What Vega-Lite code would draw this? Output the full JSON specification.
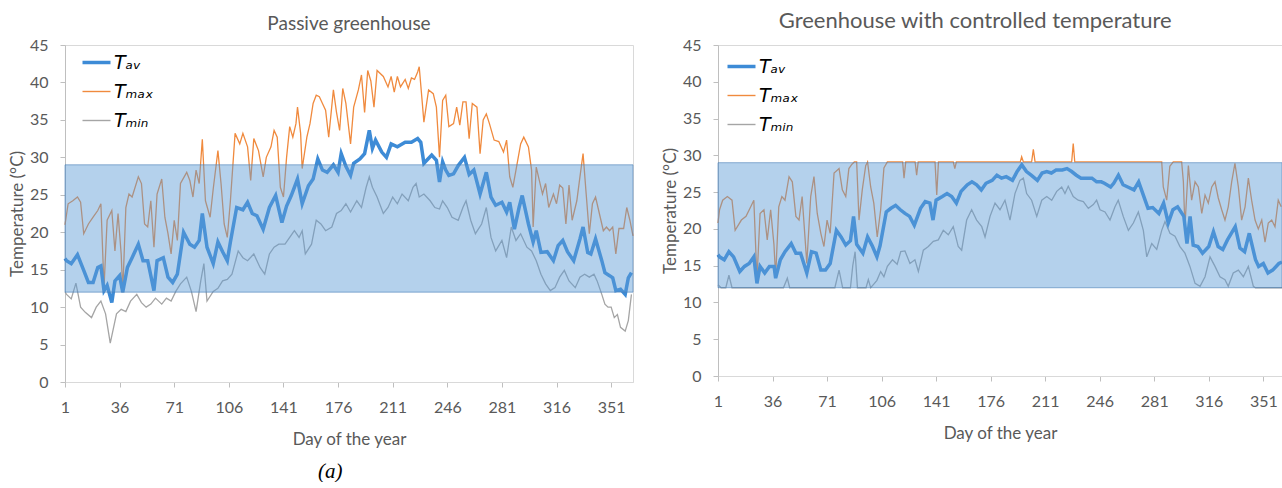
{
"$schema":"https://vega.github.io/schema/vega-lite/v6.json",
"background":"white",
"padding":{"left":7,"top":9,"right":0,"bottom":0},
"config":{
 "font":"Lato",
 "view":{"stroke":"#d9d9d9","strokeWidth":1},
 "axis":{"labelColor":"#595959","titleColor":"#595959","labelFontSize":16,"titleFontSize":17,"titleFontWeight":"normal","domainColor":"#bfbfbf","tickColor":"#bfbfbf","grid":false,"labelFont":"Lato","titleFont":"Lato","labelOverlap":false,"labelBound":false},
 "title":{"fontSize":19,"fontWeight":"normal","color":"#595959","font":"Lato"},
 "legend":{"title":null,"symbolType":"stroke","symbolSize":784,"labelFont":"DejaVu Sans","labelFontStyle":"italic","labelFontSize":19,"labelColor":"#000000","labelOffset":8,"rowPadding":9,"padding":0,"symbolOpacity":1}
},
"datasets":{
 "band":[{"lo":12,"hi":29}],
 "Lav":[{"d":1,"t":16.5},{"d":2,"t":16.2},{"d":5,"t":15.8},{"d":9,"t":17.0},{"d":13,"t":14.9},{"d":16,"t":13.3},{"d":19,"t":13.3},{"d":22,"t":15.3},{"d":24,"t":15.5},{"d":26,"t":12.2},{"d":28,"t":12.9},{"d":31,"t":10.6},{"d":33,"t":13.5},{"d":36,"t":14.2},{"d":38,"t":12.0},{"d":41,"t":15.3},{"d":44,"t":16.6},{"d":48,"t":18.4},{"d":51,"t":16.2},{"d":54,"t":16.2},{"d":58,"t":12.2},{"d":60,"t":16.2},{"d":64,"t":16.6},{"d":67,"t":14.0},{"d":70,"t":13.3},{"d":73,"t":14.4},{"d":77,"t":20.0},{"d":81,"t":18.4},{"d":84,"t":18.0},{"d":87,"t":18.9},{"d":89,"t":22.5},{"d":92,"t":18.0},{"d":96,"t":15.8},{"d":99,"t":18.7},{"d":102,"t":17.4},{"d":105,"t":16.2},{"d":107,"t":18.7},{"d":111,"t":23.3},{"d":115,"t":23.0},{"d":118,"t":24.0},{"d":121,"t":22.5},{"d":124,"t":22.2},{"d":128,"t":20.4},{"d":132,"t":23.3},{"d":136,"t":24.9},{"d":140,"t":21.3},{"d":143,"t":23.5},{"d":146,"t":24.9},{"d":150,"t":27.1},{"d":153,"t":23.8},{"d":157,"t":26.2},{"d":160,"t":27.1},{"d":163,"t":29.8},{"d":166,"t":28.3},{"d":169,"t":28.0},{"d":173,"t":29.0},{"d":176,"t":28.0},{"d":178,"t":30.5},{"d":181,"t":28.8},{"d":184,"t":27.6},{"d":186,"t":29.2},{"d":190,"t":29.8},{"d":193,"t":30.5},{"d":196,"t":33.6},{"d":198,"t":31.2},{"d":200,"t":32.3},{"d":204,"t":30.7},{"d":207,"t":30.0},{"d":210,"t":31.8},{"d":214,"t":31.4},{"d":219,"t":32.0},{"d":223,"t":32.0},{"d":227,"t":32.5},{"d":229,"t":32.0},{"d":231,"t":29.2},{"d":236,"t":30.3},{"d":239,"t":29.6},{"d":241,"t":26.7},{"d":243,"t":29.4},{"d":245,"t":28.3},{"d":247,"t":27.6},{"d":250,"t":27.8},{"d":253,"t":28.9},{"d":257,"t":30.0},{"d":260,"t":27.7},{"d":263,"t":28.3},{"d":267,"t":25.1},{"d":271,"t":28.0},{"d":274,"t":24.7},{"d":277,"t":23.6},{"d":281,"t":24.0},{"d":284,"t":22.7},{"d":286,"t":24.0},{"d":289,"t":20.4},{"d":292,"t":23.3},{"d":294,"t":24.9},{"d":298,"t":21.1},{"d":301,"t":18.7},{"d":303,"t":20.2},{"d":306,"t":17.3},{"d":310,"t":17.4},{"d":314,"t":16.2},{"d":317,"t":18.2},{"d":320,"t":18.9},{"d":323,"t":17.4},{"d":327,"t":16.2},{"d":331,"t":19.1},{"d":333,"t":20.7},{"d":336,"t":17.3},{"d":338,"t":17.1},{"d":341,"t":19.1},{"d":345,"t":16.2},{"d":347,"t":14.6},{"d":350,"t":14.2},{"d":352,"t":13.9},{"d":354,"t":12.2},{"d":357,"t":12.4},{"d":360,"t":11.7},{"d":362,"t":13.9},{"d":364,"t":14.6}],
 "Lmax":[{"d":1,"t":21.0},{"d":3,"t":23.8},{"d":6,"t":24.2},{"d":9,"t":24.7},{"d":11,"t":24.0},{"d":13,"t":19.8},{"d":16,"t":21.1},{"d":19,"t":22.0},{"d":22,"t":22.9},{"d":24,"t":23.8},{"d":26,"t":12.6},{"d":28,"t":21.6},{"d":31,"t":22.9},{"d":33,"t":17.5},{"d":35,"t":22.5},{"d":37,"t":17.1},{"d":38,"t":12.0},{"d":40,"t":23.3},{"d":42,"t":25.1},{"d":44,"t":24.7},{"d":48,"t":27.4},{"d":50,"t":26.5},{"d":52,"t":21.1},{"d":54,"t":20.7},{"d":56,"t":24.2},{"d":58,"t":18.0},{"d":60,"t":25.1},{"d":63,"t":27.1},{"d":65,"t":22.0},{"d":67,"t":19.8},{"d":69,"t":17.1},{"d":71,"t":21.6},{"d":73,"t":18.9},{"d":75,"t":26.5},{"d":79,"t":28.0},{"d":81,"t":26.9},{"d":83,"t":24.7},{"d":85,"t":28.3},{"d":87,"t":26.5},{"d":89,"t":32.4},{"d":91,"t":24.2},{"d":94,"t":22.0},{"d":96,"t":25.8},{"d":99,"t":30.9},{"d":101,"t":26.5},{"d":103,"t":21.1},{"d":105,"t":19.3},{"d":107,"t":24.2},{"d":110,"t":33.2},{"d":113,"t":31.8},{"d":115,"t":33.2},{"d":118,"t":31.4},{"d":120,"t":26.9},{"d":122,"t":32.5},{"d":125,"t":30.9},{"d":128,"t":27.4},{"d":130,"t":30.0},{"d":133,"t":31.4},{"d":135,"t":33.6},{"d":137,"t":32.7},{"d":139,"t":26.0},{"d":141,"t":24.7},{"d":143,"t":30.0},{"d":145,"t":34.1},{"d":147,"t":32.7},{"d":149,"t":34.5},{"d":150,"t":36.7},{"d":152,"t":33.2},{"d":153,"t":28.5},{"d":156,"t":32.7},{"d":158,"t":34.5},{"d":160,"t":37.2},{"d":162,"t":38.3},{"d":164,"t":38.1},{"d":166,"t":37.2},{"d":168,"t":36.3},{"d":170,"t":32.7},{"d":173,"t":39.0},{"d":175,"t":36.0},{"d":177,"t":33.6},{"d":179,"t":39.2},{"d":181,"t":37.2},{"d":184,"t":31.8},{"d":186,"t":36.7},{"d":189,"t":39.0},{"d":191,"t":41.0},{"d":193,"t":36.0},{"d":195,"t":41.6},{"d":197,"t":40.2},{"d":199,"t":36.7},{"d":201,"t":41.6},{"d":205,"t":40.8},{"d":208,"t":39.4},{"d":210,"t":40.8},{"d":212,"t":38.7},{"d":214,"t":40.8},{"d":216,"t":39.4},{"d":219,"t":40.4},{"d":221,"t":39.2},{"d":223,"t":40.6},{"d":225,"t":40.4},{"d":227,"t":41.4},{"d":228,"t":42.1},{"d":230,"t":37.2},{"d":231,"t":34.7},{"d":234,"t":39.0},{"d":237,"t":38.5},{"d":239,"t":36.7},{"d":241,"t":30.0},{"d":243,"t":37.6},{"d":245,"t":38.3},{"d":247,"t":34.1},{"d":250,"t":34.5},{"d":252,"t":36.7},{"d":254,"t":34.3},{"d":256,"t":37.4},{"d":258,"t":37.4},{"d":260,"t":32.5},{"d":262,"t":37.2},{"d":265,"t":36.7},{"d":267,"t":30.5},{"d":269,"t":35.0},{"d":271,"t":35.8},{"d":273,"t":34.5},{"d":276,"t":32.3},{"d":279,"t":32.1},{"d":282,"t":30.7},{"d":284,"t":32.3},{"d":286,"t":27.4},{"d":288,"t":26.0},{"d":290,"t":28.3},{"d":293,"t":31.8},{"d":295,"t":32.7},{"d":298,"t":31.4},{"d":300,"t":28.3},{"d":301,"t":20.7},{"d":303,"t":28.7},{"d":305,"t":26.9},{"d":307,"t":25.1},{"d":309,"t":26.5},{"d":311,"t":23.3},{"d":314,"t":25.1},{"d":316,"t":23.8},{"d":318,"t":26.3},{"d":320,"t":25.9},{"d":322,"t":21.1},{"d":324,"t":26.3},{"d":326,"t":21.6},{"d":329,"t":24.2},{"d":331,"t":27.4},{"d":333,"t":30.5},{"d":335,"t":25.1},{"d":337,"t":19.8},{"d":339,"t":23.8},{"d":341,"t":24.7},{"d":344,"t":22.0},{"d":346,"t":20.2},{"d":348,"t":20.7},{"d":350,"t":20.2},{"d":352,"t":20.7},{"d":354,"t":17.1},{"d":356,"t":20.5},{"d":359,"t":20.5},{"d":361,"t":23.3},{"d":363,"t":21.6},{"d":365,"t":19.5}],
 "Lmin":[{"d":1,"t":12.0},{"d":2,"t":11.7},{"d":5,"t":11.1},{"d":8,"t":13.2},{"d":11,"t":10.0},{"d":14,"t":9.3},{"d":18,"t":8.6},{"d":21,"t":10.0},{"d":24,"t":10.8},{"d":27,"t":9.1},{"d":30,"t":5.2},{"d":34,"t":9.1},{"d":37,"t":9.7},{"d":40,"t":9.4},{"d":43,"t":10.8},{"d":47,"t":11.7},{"d":50,"t":10.6},{"d":53,"t":10.0},{"d":56,"t":10.4},{"d":59,"t":11.2},{"d":63,"t":10.4},{"d":66,"t":11.2},{"d":69,"t":10.8},{"d":72,"t":12.1},{"d":75,"t":13.1},{"d":79,"t":14.0},{"d":82,"t":12.1},{"d":85,"t":9.4},{"d":88,"t":13.5},{"d":90,"t":15.8},{"d":92,"t":10.8},{"d":96,"t":12.1},{"d":99,"t":12.5},{"d":102,"t":13.5},{"d":105,"t":13.7},{"d":108,"t":14.4},{"d":112,"t":17.5},{"d":115,"t":16.6},{"d":118,"t":16.2},{"d":122,"t":17.1},{"d":126,"t":15.3},{"d":129,"t":14.4},{"d":132,"t":17.1},{"d":135,"t":18.0},{"d":138,"t":18.4},{"d":142,"t":18.4},{"d":145,"t":19.3},{"d":148,"t":20.2},{"d":151,"t":19.3},{"d":153,"t":20.2},{"d":155,"t":17.1},{"d":159,"t":18.4},{"d":162,"t":21.6},{"d":165,"t":21.1},{"d":168,"t":20.2},{"d":172,"t":20.7},{"d":175,"t":22.5},{"d":178,"t":22.9},{"d":181,"t":23.8},{"d":184,"t":22.7},{"d":188,"t":24.2},{"d":191,"t":23.3},{"d":194,"t":26.0},{"d":196,"t":27.4},{"d":198,"t":26.0},{"d":201,"t":24.7},{"d":205,"t":22.5},{"d":208,"t":23.3},{"d":211,"t":24.7},{"d":214,"t":23.8},{"d":217,"t":25.1},{"d":221,"t":24.2},{"d":224,"t":26.0},{"d":226,"t":26.5},{"d":228,"t":24.7},{"d":231,"t":25.1},{"d":235,"t":24.2},{"d":238,"t":23.3},{"d":241,"t":23.1},{"d":243,"t":24.2},{"d":246,"t":23.3},{"d":249,"t":22.0},{"d":253,"t":21.6},{"d":256,"t":23.3},{"d":258,"t":24.2},{"d":261,"t":21.6},{"d":264,"t":19.8},{"d":268,"t":21.1},{"d":271,"t":23.3},{"d":274,"t":19.3},{"d":277,"t":17.5},{"d":281,"t":18.9},{"d":284,"t":16.6},{"d":287,"t":20.7},{"d":290,"t":18.9},{"d":293,"t":19.8},{"d":297,"t":18.0},{"d":300,"t":17.5},{"d":303,"t":16.2},{"d":306,"t":14.4},{"d":309,"t":13.1},{"d":312,"t":12.2},{"d":315,"t":12.6},{"d":318,"t":14.0},{"d":321,"t":14.9},{"d":324,"t":13.5},{"d":328,"t":12.6},{"d":331,"t":14.0},{"d":334,"t":14.4},{"d":337,"t":14.0},{"d":340,"t":14.4},{"d":342,"t":13.5},{"d":345,"t":11.7},{"d":347,"t":10.4},{"d":349,"t":10.0},{"d":351,"t":10.0},{"d":353,"t":8.6},{"d":355,"t":9.0},{"d":357,"t":7.3},{"d":360,"t":6.8},{"d":362,"t":8.2},{"d":364,"t":11.7}],
 "Rav":[{"d":1,"t":16.5},{"d":2,"t":16.2},{"d":5,"t":15.8},{"d":8,"t":16.9},{"d":11,"t":16.2},{"d":15,"t":14.2},{"d":18,"t":14.9},{"d":21,"t":15.3},{"d":24,"t":16.2},{"d":26,"t":12.6},{"d":28,"t":14.9},{"d":31,"t":14.0},{"d":34,"t":14.9},{"d":37,"t":14.9},{"d":38,"t":13.3},{"d":41,"t":15.8},{"d":44,"t":16.9},{"d":48,"t":18.0},{"d":51,"t":16.7},{"d":54,"t":16.7},{"d":58,"t":14.0},{"d":61,"t":16.9},{"d":64,"t":16.7},{"d":67,"t":14.4},{"d":70,"t":14.4},{"d":73,"t":15.3},{"d":77,"t":19.8},{"d":80,"t":18.9},{"d":83,"t":17.8},{"d":86,"t":18.4},{"d":88,"t":21.7},{"d":90,"t":17.9},{"d":94,"t":16.7},{"d":97,"t":18.9},{"d":100,"t":17.7},{"d":103,"t":16.2},{"d":105,"t":17.7},{"d":109,"t":22.3},{"d":112,"t":22.8},{"d":115,"t":23.2},{"d":118,"t":22.6},{"d":121,"t":22.1},{"d":124,"t":21.7},{"d":127,"t":20.5},{"d":131,"t":22.8},{"d":134,"t":23.7},{"d":137,"t":23.5},{"d":139,"t":21.2},{"d":141,"t":23.9},{"d":145,"t":24.4},{"d":148,"t":24.8},{"d":151,"t":24.4},{"d":154,"t":23.5},{"d":157,"t":25.1},{"d":161,"t":26.0},{"d":164,"t":26.4},{"d":167,"t":26.0},{"d":170,"t":25.3},{"d":173,"t":26.2},{"d":177,"t":26.6},{"d":180,"t":27.3},{"d":183,"t":26.9},{"d":186,"t":27.1},{"d":190,"t":26.6},{"d":193,"t":27.8},{"d":196,"t":28.7},{"d":199,"t":27.8},{"d":202,"t":27.3},{"d":206,"t":26.6},{"d":209,"t":27.6},{"d":212,"t":27.8},{"d":215,"t":27.6},{"d":218,"t":28.0},{"d":222,"t":28.0},{"d":225,"t":28.2},{"d":228,"t":27.8},{"d":231,"t":27.3},{"d":234,"t":26.9},{"d":238,"t":26.9},{"d":241,"t":26.9},{"d":244,"t":26.4},{"d":247,"t":26.4},{"d":249,"t":26.2},{"d":253,"t":25.7},{"d":255,"t":26.2},{"d":258,"t":27.3},{"d":261,"t":26.0},{"d":264,"t":25.7},{"d":268,"t":25.3},{"d":271,"t":26.4},{"d":274,"t":24.6},{"d":277,"t":22.8},{"d":280,"t":22.9},{"d":284,"t":22.1},{"d":287,"t":23.5},{"d":290,"t":20.8},{"d":293,"t":22.6},{"d":296,"t":23.0},{"d":300,"t":21.7},{"d":302,"t":18.0},{"d":304,"t":21.7},{"d":306,"t":17.8},{"d":309,"t":17.6},{"d":312,"t":16.7},{"d":316,"t":17.6},{"d":319,"t":19.6},{"d":322,"t":17.6},{"d":325,"t":17.2},{"d":328,"t":18.5},{"d":333,"t":20.3},{"d":336,"t":17.4},{"d":339,"t":16.9},{"d":342,"t":19.4},{"d":346,"t":15.8},{"d":348,"t":14.9},{"d":351,"t":15.3},{"d":354,"t":14.0},{"d":357,"t":14.4},{"d":361,"t":15.3},{"d":363,"t":15.5}],
 "Rmax":[{"d":1,"t":20.8},{"d":2,"t":22.6},{"d":4,"t":23.9},{"d":7,"t":24.4},{"d":10,"t":23.9},{"d":12,"t":19.8},{"d":16,"t":21.2},{"d":19,"t":21.7},{"d":22,"t":23.0},{"d":24,"t":23.9},{"d":26,"t":13.1},{"d":28,"t":22.1},{"d":30.5,"t":22.6},{"d":32.6,"t":18.5},{"d":34.8,"t":22.6},{"d":36.9,"t":17.9},{"d":38,"t":13.5},{"d":40,"t":23.0},{"d":42,"t":24.4},{"d":44,"t":23.9},{"d":46.6,"t":27.1},{"d":48.7,"t":26.4},{"d":51,"t":21.7},{"d":53,"t":21.2},{"d":55,"t":24.4},{"d":58,"t":15.3},{"d":60.5,"t":24.4},{"d":62.6,"t":27.1},{"d":64.7,"t":22.1},{"d":67,"t":19.4},{"d":69,"t":17.6},{"d":71,"t":21.2},{"d":73,"t":19.4},{"d":75.5,"t":27.6},{"d":78.7,"t":28.2},{"d":80.8,"t":25.3},{"d":83,"t":24.4},{"d":85,"t":28.2},{"d":87,"t":28.8},{"d":88.5,"t":29.1},{"d":90,"t":29.1},{"d":91.5,"t":21.2},{"d":93.6,"t":25.3},{"d":95.8,"t":28.6},{"d":97,"t":29.1},{"d":99,"t":25.7},{"d":101,"t":23.5},{"d":103.2,"t":18.9},{"d":105.4,"t":22.6},{"d":107.5,"t":28.3},{"d":109.7,"t":29.1},{"d":119.5,"t":29.1},{"d":120.4,"t":26.9},{"d":121.5,"t":29.1},{"d":127.5,"t":29.1},{"d":128.5,"t":27.3},{"d":129.5,"t":29.1},{"d":140.3,"t":29.1},{"d":141.4,"t":24.6},{"d":142.5,"t":29.1},{"d":152,"t":29.1},{"d":153,"t":28.2},{"d":154,"t":29.1},{"d":195,"t":29.1},{"d":195.9,"t":29.8},{"d":197,"t":29.1},{"d":202.3,"t":29.1},{"d":203.4,"t":30.8},{"d":204.5,"t":29.1},{"d":228,"t":29.1},{"d":229,"t":31.6},{"d":230,"t":29.1},{"d":285.8,"t":29.1},{"d":286.8,"t":25.7},{"d":289,"t":23.9},{"d":291,"t":28.5},{"d":293.2,"t":29.1},{"d":298.6,"t":29.1},{"d":299.7,"t":26.4},{"d":300.7,"t":20.3},{"d":302.9,"t":28.6},{"d":305,"t":23.9},{"d":307.2,"t":26.4},{"d":309.3,"t":25.7},{"d":311.5,"t":22.1},{"d":313.6,"t":24.6},{"d":315.7,"t":23.5},{"d":317.9,"t":25.7},{"d":320,"t":26.4},{"d":322.1,"t":24.2},{"d":324.3,"t":22.6},{"d":326.4,"t":21.2},{"d":328.5,"t":23.0},{"d":330.7,"t":26.4},{"d":332.8,"t":28.9},{"d":335,"t":25.7},{"d":337.1,"t":21.2},{"d":339.3,"t":23.0},{"d":341.4,"t":26.9},{"d":343.5,"t":23.9},{"d":345.7,"t":21.2},{"d":347.8,"t":20.0},{"d":350,"t":21.2},{"d":352.1,"t":18.2},{"d":354.2,"t":20.8},{"d":356.4,"t":21.2},{"d":358.5,"t":20.3},{"d":360.6,"t":23.9},{"d":362.5,"t":23.0}],
 "Rmin":[{"d":1,"t":12.4},{"d":3,"t":12.0},{"d":6,"t":12.0},{"d":8,"t":13.7},{"d":10,"t":12.0},{"d":43,"t":12.0},{"d":45.5,"t":13.3},{"d":47,"t":12.0},{"d":76,"t":12.0},{"d":78.7,"t":14.4},{"d":81,"t":12.0},{"d":86,"t":12.0},{"d":87.5,"t":15.0},{"d":89,"t":16.9},{"d":90.5,"t":12.0},{"d":96,"t":12.0},{"d":97.5,"t":13.1},{"d":99,"t":12.0},{"d":101,"t":12.5},{"d":103,"t":13.0},{"d":105.4,"t":14.2},{"d":107.5,"t":13.5},{"d":109.7,"t":14.9},{"d":113,"t":15.8},{"d":116,"t":15.2},{"d":118.3,"t":16.9},{"d":121,"t":17.0},{"d":124.2,"t":15.3},{"d":127.4,"t":15.8},{"d":129.6,"t":14.2},{"d":132.8,"t":17.1},{"d":136,"t":17.6},{"d":139.2,"t":18.3},{"d":142.4,"t":18.5},{"d":145.6,"t":19.8},{"d":148.8,"t":19.2},{"d":152,"t":20.3},{"d":155.2,"t":17.6},{"d":157.4,"t":17.1},{"d":160.6,"t":21.2},{"d":163.8,"t":22.6},{"d":167,"t":21.2},{"d":170.3,"t":20.3},{"d":172.4,"t":18.9},{"d":175.6,"t":21.7},{"d":178.8,"t":23.5},{"d":182,"t":22.6},{"d":185.2,"t":23.9},{"d":188.4,"t":21.2},{"d":191.6,"t":24.8},{"d":194.8,"t":26.6},{"d":197,"t":26.9},{"d":199.1,"t":24.8},{"d":202.3,"t":23.9},{"d":205.6,"t":21.7},{"d":208.8,"t":23.9},{"d":212,"t":24.4},{"d":215.2,"t":23.9},{"d":218.4,"t":25.1},{"d":221.6,"t":25.7},{"d":223.7,"t":24.8},{"d":225.8,"t":25.8},{"d":229,"t":24.4},{"d":232.2,"t":23.9},{"d":235.5,"t":23.7},{"d":238.7,"t":22.8},{"d":241.9,"t":23.3},{"d":244,"t":23.9},{"d":246.2,"t":22.6},{"d":249.4,"t":22.3},{"d":252.6,"t":21.2},{"d":255.8,"t":23.0},{"d":257.9,"t":23.9},{"d":261.1,"t":21.7},{"d":264.4,"t":19.8},{"d":267.6,"t":20.8},{"d":270.8,"t":22.3},{"d":274,"t":19.8},{"d":276.2,"t":16.2},{"d":279.4,"t":18.0},{"d":282.6,"t":17.2},{"d":285.8,"t":19.8},{"d":287.9,"t":21.0},{"d":291.1,"t":19.4},{"d":294.3,"t":19.0},{"d":297.5,"t":17.6},{"d":300.7,"t":16.7},{"d":303.9,"t":14.9},{"d":307.2,"t":12.6},{"d":310.4,"t":12.2},{"d":313.6,"t":13.5},{"d":316.8,"t":16.2},{"d":320,"t":14.9},{"d":323.2,"t":13.5},{"d":326.4,"t":13.1},{"d":328.5,"t":12.2},{"d":331.7,"t":14.0},{"d":335,"t":14.4},{"d":338.2,"t":13.5},{"d":341.4,"t":14.9},{"d":344.6,"t":12.2},{"d":346,"t":12.0},{"d":363,"t":12.0}]
},
"spacing":21,
"resolve":{"scale":{"color":"independent"},"legend":{"color":"independent"}},
"title":{"text":"(a)","orient":"bottom","anchor":"start","dx":310,"offset":13,"font":"Liberation Serif","fontStyle":"italic","fontSize":21,"color":"#000000","fontWeight":"normal"},
"hconcat":[
 {
  "width":568,"height":337,
  "title":{"text":"Passive greenhouse","frame":"group","offset":3,"fontSize":19},
  "layer":[
   {"data":{"name":"Lmin"},"mark":{"type":"line","strokeWidth":1.3},
    "encoding":{
     "x":{"field":"d","type":"quantitative","scale":{"domain":[1,365],"nice":false,"zero":false},"title":"Day of the year",
      "axis":{"values":[1,36,71,106,141,176,211,246,281,316,351],"format":"d","labelOverlap":false,"labelFlush":false,"tickSize":5,"labelPadding":12,"domainColor":"#d9d9d9","titlePadding":16}},
     "y":{"field":"t","type":"quantitative","scale":{"domain":[0,45],"nice":false},"title":"Temperature (°C)",
      "axis":{"tickCount":10,"labelOverlap":false,"tickSize":5,"labelPadding":12,"titlePadding":3}},
     "color":{"datum":"Tmin","scale":{"domain":["Tav","Tmax","Tmin"],"range":["#3d8bd6","#f08a3e","#a5a5a5"]},
      "legend":{"orient":"none","legendX":22,"legendY":8,"labelExpr":"datum.label === 'Tav' ? 'Tₐᵥ' : datum.label === 'Tmax' ? 'Tₘₐₓ' : 'Tₘᵢₙ'","encode":{"symbols":{"update":{"strokeWidth":{"signal":"datum.value === 'Tav' ? 3.5 : 1.4"}}}}}}
    }},
   {"data":{"name":"Lmax"},"mark":{"type":"line","strokeWidth":1.3},
    "encoding":{"x":{"field":"d","type":"quantitative"},"y":{"field":"t","type":"quantitative"},"color":{"datum":"Tmax"}}},
   {"data":{"name":"Lav"},"mark":{"type":"line","strokeWidth":3.5},
    "encoding":{"x":{"field":"d","type":"quantitative"},"y":{"field":"t","type":"quantitative"},"color":{"datum":"Tav"}}},
   {"data":{"name":"band"},"mark":{"type":"rect","fill":"#5b9bd5","fillOpacity":0.46,"stroke":"#4a7fb8","strokeWidth":1,"strokeOpacity":0.6},
    "encoding":{"y":{"field":"lo","type":"quantitative"},"y2":{"field":"hi"}}}
  ]
 },
 {
  "width":564,"height":331,
  "title":{"text":"Greenhouse with controlled temperature","frame":"bounds","offset":4,"fontSize":22},
  "layer":[
   {"data":{"name":"Rmin"},"mark":{"type":"line","strokeWidth":1.3},
    "encoding":{
     "x":{"field":"d","type":"quantitative","scale":{"domain":[1,363],"nice":false,"zero":false},"title":"Day of the year",
      "axis":{"values":[1,36,71,106,141,176,211,246,281,316,351],"format":"d","labelOverlap":false,"labelFlush":false,"tickSize":5,"labelPadding":12,"domainColor":"#d9d9d9","titlePadding":16}},
     "y":{"field":"t","type":"quantitative","scale":{"domain":[0,45],"nice":false},"title":"Temperature (°C)",
      "axis":{"tickCount":10,"labelOverlap":false,"tickSize":5,"labelPadding":12,"titlePadding":3}},
     "color":{"datum":"Tmin","scale":{"domain":["Tav","Tmax","Tmin"],"range":["#3d8bd6","#f08a3e","#a5a5a5"]},
      "legend":{"orient":"none","legendX":14,"legendY":12,"labelExpr":"datum.label === 'Tav' ? 'Tₐᵥ' : datum.label === 'Tmax' ? 'Tₘₐₓ' : 'Tₘᵢₙ'","encode":{"symbols":{"update":{"strokeWidth":{"signal":"datum.value === 'Tav' ? 3.5 : 1.4"}}}}}}
    }},
   {"data":{"name":"Rmax"},"mark":{"type":"line","strokeWidth":1.3},
    "encoding":{"x":{"field":"d","type":"quantitative"},"y":{"field":"t","type":"quantitative"},"color":{"datum":"Tmax"}}},
   {"data":{"name":"Rav"},"mark":{"type":"line","strokeWidth":3.5},
    "encoding":{"x":{"field":"d","type":"quantitative"},"y":{"field":"t","type":"quantitative"},"color":{"datum":"Tav"}}},
   {"data":{"name":"band"},"mark":{"type":"rect","fill":"#5b9bd5","fillOpacity":0.46,"stroke":"#4a7fb8","strokeWidth":1,"strokeOpacity":0.6},
    "encoding":{"y":{"field":"lo","type":"quantitative"},"y2":{"field":"hi"}}}
  ]
 }
]
}
